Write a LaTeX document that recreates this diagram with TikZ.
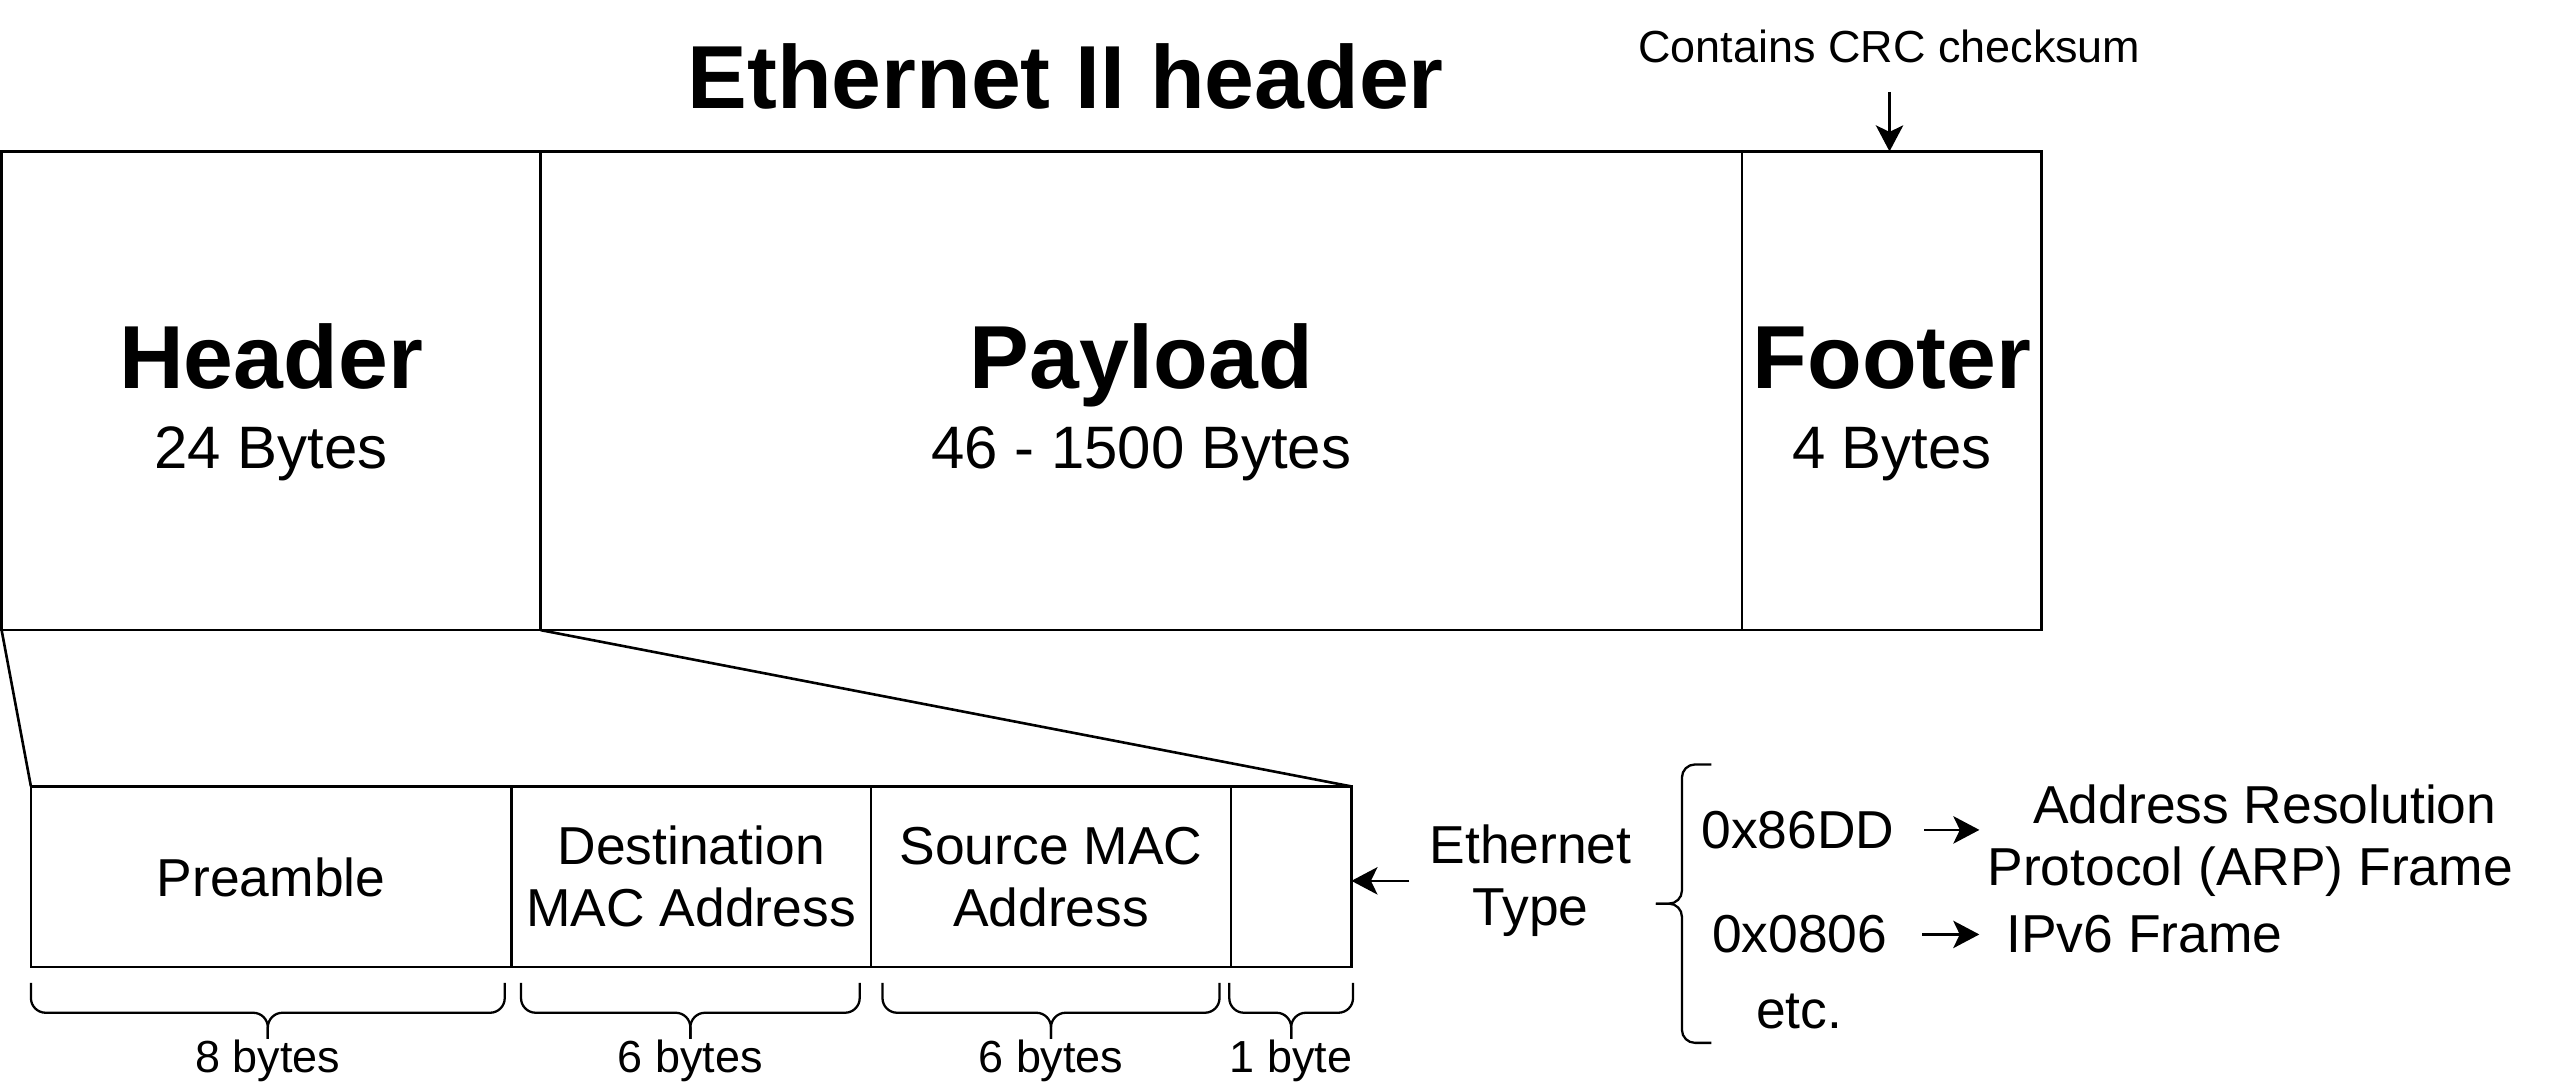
\documentclass[tikz,border=0pt]{standalone}
\usepackage{fontspec}
\setmainfont{Liberation Sans}
\usetikzlibrary{arrows.meta}

\tikzset{
	cell/.style={draw, line width=0.8pt, inner sep=0pt, outer sep=0pt, anchor=north west, align=center},
	bigname/.style={font=\fontsize{27.5}{33}\selectfont\bfseries, anchor=base, inner sep=0pt},
	sizename/.style={font=\fontsize{18.4}{22}\selectfont, anchor=base, inner sep=0pt},
	smalltext/.style={font=\fontsize{13.8}{16}\selectfont, anchor=base, inner sep=0pt},
	plaintext/.style={font=\fontsize{16.4}{19}\selectfont, inner sep=0pt, align=center},
	bracepath/.style={line width=0.7pt, rounded corners=4.5pt},
	arr/.style={-{Stealth[length=8pt,width=8.4pt,inset=2pt]}, line width=0.8pt},
}

\begin{document}
\begin{tikzpicture}[x=0.5pt,y=-0.5pt]
		\path[fill=white] (0,0) rectangle (1568,669);
		\useasboundingbox (0,0) rectangle (1568,669);
		\node[bigname] (title) at (654.5,66.8) {Ethernet II header};
		% whole frame
		\node[cell, minimum width=165.5pt, minimum height=147pt] (hdr) at (1,93) {};
		\node[cell, minimum width=369pt, minimum height=147pt] (pay) at (hdr.north east) {};
		\node[cell, minimum width=92pt, minimum height=147pt] (foot) at (pay.north east) {};
		\node[bigname] (hdrname) at ([yshift=0.75pt]hdr.center) {Header};
		\node[sizename] (hdrsize) at ([yshift=-23.85pt]hdr.center) {24 Bytes};
		\node[bigname] (payname) at ([yshift=0.75pt]pay.center) {Payload};
		\node[sizename] (paysize) at ([yshift=-23.85pt]pay.center) {46 - 1500 Bytes};
		\node[bigname] (footname) at ([yshift=0.75pt]foot.center) {Footer};
		\node[sizename] (footsize) at ([yshift=-23.85pt]foot.center) {4 Bytes};
		\node[smalltext] (crc) at (1160.5,38.5) {Contains CRC checksum};
		\draw[arr] ([yshift=-9pt]crc.base) -- (crc.base |- foot.north);
		% header fields
		\node[cell, minimum width=147.5pt, minimum height=55.5pt, font=\fontsize{16.4}{19}\selectfont, text depth=0pt] (pre) at (19,483) {Preamble};
		\node[cell, minimum width=110.5pt, minimum height=55.5pt, font=\fontsize{16.4}{19}\selectfont] (dst) at (pre.north east) {Destination\\MAC Address};
		\node[cell, minimum width=110.5pt, minimum height=55.5pt, font=\fontsize{16.4}{19}\selectfont] (src) at (dst.north east) {Source MAC\\Address};
		\node[cell, minimum width=37pt, minimum height=55.5pt] (typ) at (src.north east) {};
		\draw[line width=0.8pt] (hdr.south west) -- (pre.north west);
		\draw[line width=0.8pt] (hdr.south east) -- (typ.north east);
		\foreach \a/\b/\t [count=\i] in {19/310/8 bytes, 320/528/6 bytes, 542/749/6 bytes, 755/831/1 byte} {
			\draw[bracepath] (\a,603.6) -- (\a,622) -- ({(\a+\b)/2},622) -- ({(\a+\b)/2},638);
			\draw[bracepath] (\b,603.6) -- (\b,622) -- ({(\a+\b)/2},622) -- ({(\a+\b)/2},638);
			\node[smalltext] (len\i) at ({(\a+\b)/2},659) {\t};
		}
		% ethernet type values
		\node[plaintext] (ethtype) at (940,541) {Ethernet\\Type};
		\draw[arr] ([xshift=-6pt]ethtype.west) -- (ethtype.west -| typ.east);
		\draw[bracepath, rounded corners=4pt] (1051,469.5) -- (1033,469.5) -- (1033,555) -- (1017,555);
		\draw[bracepath, rounded corners=4pt] (1051,640.5) -- (1033,640.5) -- (1033,555) -- (1017,555);
		\node[plaintext, anchor=base] (hexa) at (1104.3,521) {0x86DD};
		\node[plaintext, anchor=base] (hexb) at (1105.3,585.2) {0x0806};
		\node[plaintext, anchor=base] (etc) at (1105,631.6) {etc.};
		\node[plaintext] (arp) at (1382,516.2) {\hspace*{9pt}Address Resolution\\Protocol (ARP) Frame};
		\node[plaintext, anchor=base] (ipv6) at (1317,585.2) {IPv6 Frame};
		\draw[arr] ([xshift=9pt]hexa.east) -- ([xshift=-2.3pt]hexa.east -| arp.west);
		\draw[arr] ([xshift=10.5pt]hexb.east) -- ([xshift=-8.1pt]hexb.east -| ipv6.west);
	\end{tikzpicture}
\end{document}
